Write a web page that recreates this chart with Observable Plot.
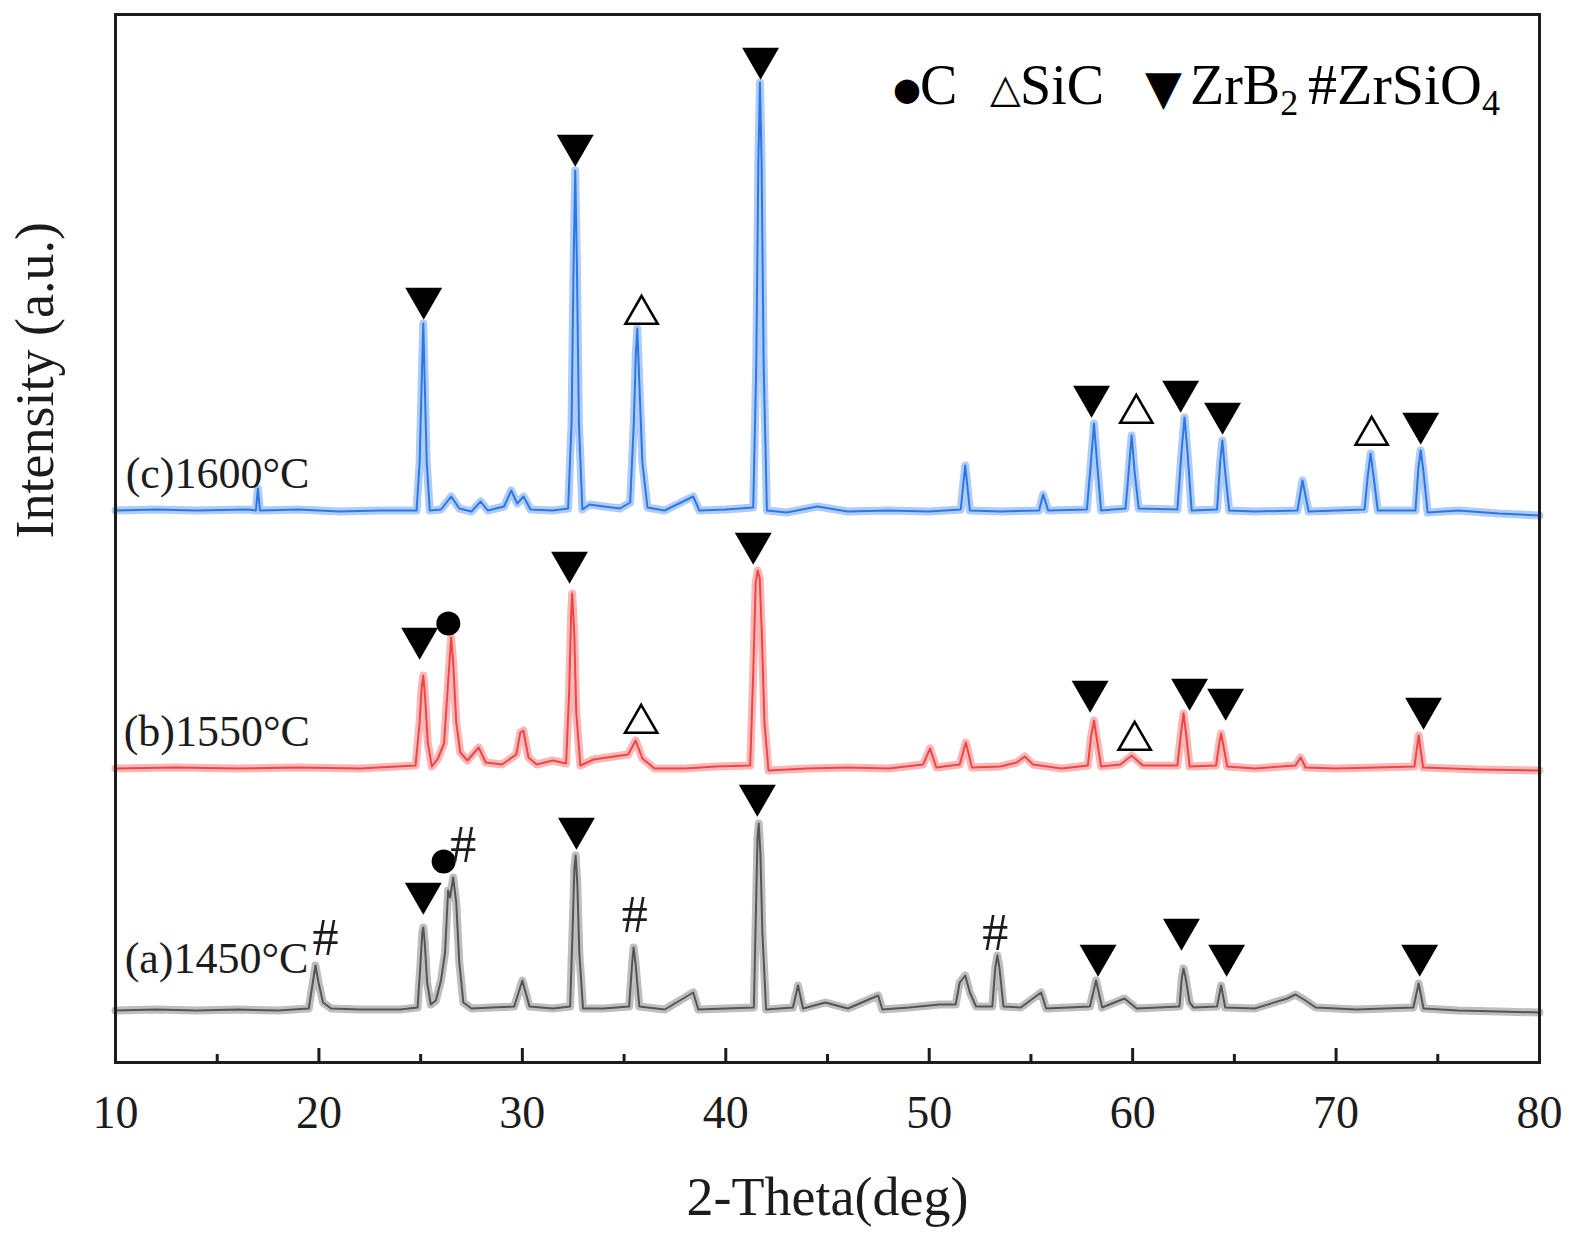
<!DOCTYPE html>
<html>
<head>
<meta charset="utf-8">
<script src="https://cdn.jsdelivr.net/npm/d3@7"></script>
<script src="https://cdn.jsdelivr.net/npm/@observablehq/plot@0.6"></script>
<style>
  html, body { margin: 0; padding: 0; background: #fff; overflow: hidden; }
  #chart { width: 1575px; height: 1237px; }
</style>
</head>
<body>
<div id="chart"></div>
<script>
// ---- data (2-theta in degrees, intensity in arbitrary units, traces already offset) ----
const traceC = [ // (c) 1600 °C
  [10,552],[12,553],[14,552],[16.5,553],[16.9,552],[17.0,574],[17.1,552],[19,553],[21,551],[23,552],[24.8,552],
  [24.95,600],[25.05,680],[25.13,739],[25.2,680],[25.3,600],[25.45,552],
  [26.0,553],[26.5,566],[26.9,554],[27.5,551],[27.95,561],[28.3,552],[29.1,556],[29.45,572],[29.75,559],[30.06,566],[30.4,553],[31.5,552],[32.25,554],
  [32.42,640],[32.52,800],[32.6,892],[32.68,800],[32.78,640],[32.95,553],
  [33.3,558],[34.0,556],[34.8,554],[35.3,560],[35.48,640],[35.58,710],[35.65,734],[35.75,680],[35.9,600],[36.15,555],
  [37,552],[38.4,566],[38.7,552],[40,553],[41.35,555],
  [41.5,700],[41.6,900],[41.68,980],[41.76,900],[41.86,700],[42.02,552],
  [43,550],[44.5,556],[46,551],[48,552],[50,551],[51.55,553],[51.77,597],[52.0,552],[53.5,551],[55.4,552],[55.6,568],[55.85,552],[57.75,553],
  [57.95,600],[58.1,639],[58.25,600],[58.45,552],
  [59.65,554],[59.8,590],[59.95,627],[60.1,590],[60.3,554],
  [62.2,553],[62.4,610],[62.55,645],[62.7,610],[62.9,552],
  [64.15,553],[64.3,600],[64.41,622],[64.55,590],[64.75,552],
  [66,551],[68.1,552],[68.35,582],[68.65,551],
  [71.4,553],[71.55,585],[71.7,609],[71.85,585],[72.05,552],
  [73.9,552],[74.05,595],[74.16,612],[74.3,590],[74.5,550],
  [76,552],[78,549],[80,547]
];
const traceB = [ // (b) 1550 °C
  [10,294],[13,295],[16,294],[19,295],[22,294],[24.75,297],
  [24.95,340],[25.05,375],[25.13,387],[25.22,365],[25.35,320],[25.55,296],
  [25.85,304],[26.15,319],[26.35,380],[26.5,425],[26.6,400],[26.75,340],[26.95,310],[27.3,302],
  [27.85,315],[28.2,300],[29.0,298],[29.7,308],[29.9,330],[30.05,332],[30.3,305],[30.7,298],
  [31.5,302],[32.15,299],[32.3,370],[32.4,450],[32.45,469],[32.55,430],[32.65,350],[32.85,297],
  [33.5,303],[34.5,306],[35.2,308],[35.57,322],[35.9,304],[36.5,294],[38,294],[39.5,296],[41.2,297],
  [41.35,390],[41.47,480],[41.57,492],[41.67,484],[41.77,430],[41.9,340],[42.1,292],
  [44,294],[46,295],[48,294],[49.7,298],[50.04,314],[50.35,295],[51.5,298],[51.8,320],[52.1,295],[53.5,296],[54.3,300],[54.7,306],[55.1,298],[56.5,294],[57.8,297],
  [57.95,325],[58.1,342],[58.25,322],[58.45,296],
  [59.4,298],[59.95,307],[60.5,297],[62.2,297],[62.38,330],[62.5,349],[62.62,330],[62.8,296],
  [64.1,297],[64.25,318],[64.35,329],[64.47,316],[64.65,296],
  [66,294],[68.0,297],[68.26,305],[68.5,295],[70,294],[72,295],[73.85,296],[74.06,327],[74.28,295],[77,293],[80,292]
];
const traceA = [ // (a) 1450 °C
  [10,52],[12,53],[14,52],[16,53],[18,52],[19.5,54],[19.7,80],[19.83,97],[19.98,80],[20.2,60],[20.6,54],[22,53],[24,53],[24.85,55],
  [24.98,95],[25.08,130],[25.13,135],[25.2,120],[25.32,80],[25.5,58],
  [25.75,62],[26.0,82],[26.2,110],[26.35,172],[26.45,165],[26.6,185],[26.75,160],[26.9,100],[27.1,60],[27.5,54],
  [28.5,55],[29.6,56],[30.0,82],[30.35,56],[31.5,54],[32.35,56],
  [32.48,140],[32.56,195],[32.62,207],[32.7,180],[32.8,110],[32.98,54],
  [34,54],[35.25,56],[35.4,100],[35.47,115],[35.56,100],[35.75,56],
  [37,53],[38.4,70],[38.65,53],[40,54],[41.38,55],
  [41.48,150],[41.56,225],[41.62,239],[41.7,210],[41.8,130],[41.98,53],
  [43.3,55],[43.55,77],[43.8,54],[44.9,60],[46,54],[47.49,67],[47.7,53],[49,55],[50.5,58],
  [51.3,58],[51.5,80],[51.77,87],[52.0,70],[52.3,56],
  [53.1,56],[53.25,95],[53.35,107],[53.45,95],[53.65,56],
  [54.5,55],[55.5,70],[55.75,54],[57.9,56],[58.2,82],[58.5,55],[59.6,64],[60.2,54],
  [62.3,56],[62.42,85],[62.5,94],[62.6,85],[62.8,60],[63.0,55],
  [64.15,56],[64.35,77],[64.55,55],[66,54],[67.6,64],[68.0,68],[68.5,62],[69,55],[71,53],[73.8,55],[74.06,79],[74.3,54],[76,52],[78,51],[80,50]
];

// phase markers [2theta, intensity]
const zrb2Marks = [
  [25.15,764],[32.6,917],[41.71,1004],[57.98,666],[62.36,671],[64.42,649],[74.16,639],
  [24.95,424],[32.32,500],[41.35,519],[57.91,371],[62.8,373],[64.57,363],[74.3,354],
  [25.13,169],[32.66,234],[41.55,267],[58.3,107],[62.4,133],[64.62,107],[74.11,107]
];
const sicMarks = [[35.86,748],[60.18,649],[71.75,627],[35.84,339],[60.1,322]];
const carbonMarks = [[26.36,439],[26.13,201]];
const zrsio4Marks = [[20.32,124],[27.1,217],[35.52,147],[53.24,129]];

const sampleLabels = [
  {x: 10.5, y: 589, text: "(c)1600°C"},
  {x: 10.4, y: 331, text: "(b)1550°C"},
  {x: 10.45, y: 104, text: "(a)1450°C"}
];
const majorTicks = [10, 20, 30, 40, 50, 60, 70, 80];
const minorTicks = [15, 25, 35, 45, 55, 65, 75];

const blue = "#2b78e4", red = "#ef4545", gray = "#555555", ink = "#1c1c1c";
const serif = "Liberation Serif, Times New Roman, serif";

function traceMarks(data, color) {
  return [
    Plot.line(data, {x: d => d[0], y: d => d[1], stroke: color, strokeWidth: 8, strokeOpacity: 0.38}),
    Plot.line(data, {x: d => d[0], y: d => d[1], stroke: color, strokeWidth: 2})
  ];
}

const svg = Plot.plot({
  width: 1575,
  height: 1237,
  marginLeft: 115,
  marginRight: 36,
  marginTop: 14,
  marginBottom: 175,
  style: {fontFamily: serif, color: ink, background: "#fff"},
  x: {domain: [10, 80]},
  y: {domain: [0, 1048], axis: null},
  marks: [
    ...traceMarks(traceA, gray),
    ...traceMarks(traceB, red),
    ...traceMarks(traceC, blue),
    Plot.ruleX(majorTicks, {x: d => d, y1: 0, y2: 14, stroke: ink, strokeWidth: 3}),
    Plot.ruleX(minorTicks, {x: d => d, y1: 0, y2: 8, stroke: ink, strokeWidth: 3}),
    Plot.frame({stroke: ink, strokeWidth: 3}),
    Plot.axisX({ticks: majorTicks, tickSize: 0, tickPadding: 33, fontSize: 46, label: null, tickFormat: d => String(d)}),
    Plot.text(["2-Theta(deg)"], {frameAnchor: "bottom", dy: 135, text: d => d, fontSize: 54, lineAnchor: "middle", fill: ink}),
    Plot.text(["Intensity (a.u.)"], {frameAnchor: "left", dx: -80, rotate: -90, text: d => d, fontSize: 54, lineAnchor: "middle", fill: ink}),
    Plot.text(sampleLabels, {x: "x", y: "y", text: "text", textAnchor: "start", lineAnchor: "middle", fontSize: 44, fill: ink}),
    Plot.dot(zrb2Marks, {x: d => d[0], y: d => d[1], symbol: "triangle", rotate: 180, r: 13.7, fill: "#000", stroke: "none"}),
    Plot.dot(sicMarks, {x: d => d[0], y: d => d[1], symbol: "triangle", r: 12, fill: "#fff", stroke: "#000", strokeWidth: 2.5}),
    Plot.dot(carbonMarks, {x: d => d[0], y: d => d[1], symbol: "circle", r: 12, fill: "#000", stroke: "none"}),
    Plot.text(zrsio4Marks, {x: d => d[0], y: d => d[1], text: () => "#", fontSize: 52, lineAnchor: "middle", fill: ink})
  ]
});

// legend (real text with subscripts)
const lg = d3.select(svg).append("text")
  .attr("y", 104)
  .attr("text-anchor", "start")
  .attr("font-family", serif)
  .attr("font-size", 56)
  .attr("fill", "#000");
lg.append("tspan").attr("x", 893).attr("y", 100).attr("font-family", "DejaVu Sans").attr("font-size", 32).text("●");
lg.append("tspan").attr("x", 920).attr("y", 104).text("C");
lg.append("tspan").attr("x", 990).attr("y", 102).attr("font-family", "DejaVu Sans").attr("font-size", 40).text("△");
lg.append("tspan").attr("x", 1020).attr("y", 104).text("SiC");
lg.append("tspan").attr("x", 1145).attr("y", 104).attr("font-family", "DejaVu Sans").attr("font-size", 48).text("▼");
lg.append("tspan").attr("x", 1190).attr("y", 104).text("ZrB");
lg.append("tspan").attr("y", 115).attr("font-size", 36).text("2");
lg.append("tspan").attr("x", 1308).attr("y", 104).attr("font-size", 58).text("#ZrSiO");
lg.append("tspan").attr("y", 115).attr("font-size", 36).text("4");

document.getElementById("chart").appendChild(svg);
</script>
</body>
</html>
